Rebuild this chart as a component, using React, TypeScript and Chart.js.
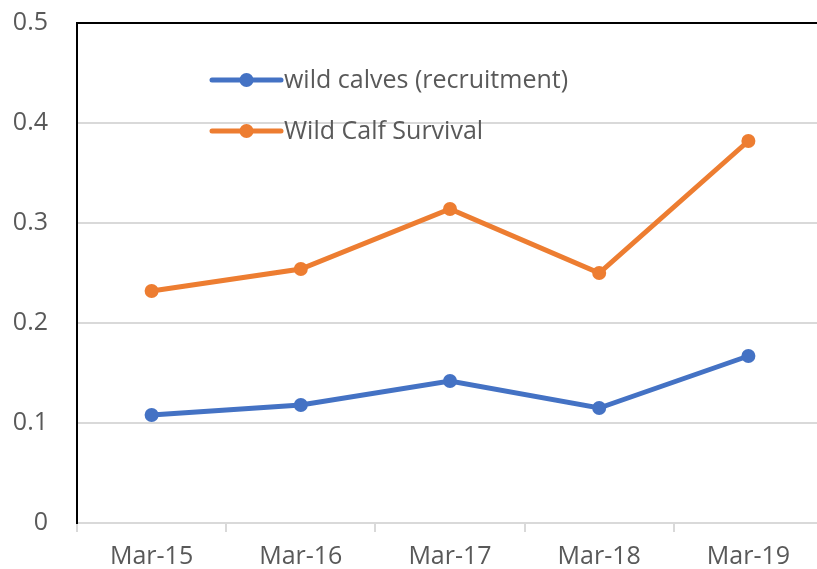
import React, { useEffect, useRef } from "react";
import { Chart, registerables } from "chart.js";

Chart.register(...registerables);

const categories = ["Mar-15", "Mar-16", "Mar-17", "Mar-18", "Mar-19"];
const recruitment = [0.108, 0.118, 0.142, 0.115, 0.167];
const survival = [0.232, 0.254, 0.314, 0.25, 0.382];
const yTicks = [0, 0.1, 0.2, 0.3, 0.4, 0.5];

const BLUE = "#4472C4";
const ORANGE = "#ED7D31";
const TEXT = "#595959";
const GRID = "#D9D9D9";
const FONT = "'Open Sans', 'Noto Sans', sans-serif";

const insideLegend = {
  id: "insideLegend",
  afterDraw(chart: any) {
    const { ctx, chartArea } = chart;
    const x0 = chartArea.left + 135;
    const lineLen = 69;
    let y = chartArea.top + 57;
    ctx.save();
    chart.data.datasets.forEach((ds: any) => {
      ctx.strokeStyle = ds.borderColor;
      ctx.lineWidth = 5;
      ctx.lineCap = "round";
      ctx.beginPath();
      ctx.moveTo(x0, y);
      ctx.lineTo(x0 + lineLen, y);
      ctx.stroke();
      ctx.fillStyle = ds.borderColor;
      ctx.beginPath();
      ctx.arc(x0 + lineLen / 2, y, 7, 0, Math.PI * 2);
      ctx.fill();
      ctx.fillStyle = TEXT;
      ctx.font = `25px ${FONT}`;
      ctx.textBaseline = "middle";
      ctx.textAlign = "left";
      ctx.fillText(ds.label, x0 + lineLen + 3, y + 1);
      y += 51;
    });
    ctx.restore();
  },
};

export default function App() {
  const ref = useRef<HTMLCanvasElement | null>(null);

  useEffect(() => {
    document.body.style.margin = "0";
    document.body.style.overflow = "hidden";
    const chart = new Chart(ref.current as HTMLCanvasElement, {
      type: "line",
      data: {
        labels: categories,
        datasets: [
          {
            label: "wild calves (recruitment)",
            data: recruitment,
            borderColor: BLUE,
            backgroundColor: BLUE,
            borderWidth: 5,
            pointRadius: 7,
            pointBackgroundColor: BLUE,
            pointBorderWidth: 0,
            tension: 0,
          },
          {
            label: "Wild Calf Survival",
            data: survival,
            borderColor: ORANGE,
            backgroundColor: ORANGE,
            borderWidth: 5,
            pointRadius: 7,
            pointBackgroundColor: ORANGE,
            pointBorderWidth: 0,
            tension: 0,
          },
        ],
      },
      options: {
        animation: false,
        responsive: false,
        maintainAspectRatio: false,
        layout: { padding: { top: 23, right: 5, left: 0, bottom: 0 } },
        plugins: {
          legend: { display: false },
          tooltip: { enabled: false },
        },
        scales: {
          x: {
            offset: true,
            grid: {
              offset: true,
              drawOnChartArea: false,
              drawTicks: true,
              tickLength: 9,
              color: GRID,
              lineWidth: 2,
            },
            border: { display: true, color: GRID, width: 2 },
            ticks: {
              color: TEXT,
              font: { family: FONT, size: 25 },
              padding: 10,
              maxRotation: 0,
            },
            afterFit: (s: any) => {
              s.height = 46;
              s.paddingTop = 0;
              s.paddingBottom = 0;
              s.paddingLeft = 0;
              s.paddingRight = 0;
            },
          },
          y: {
            min: 0,
            max: 0.5,
            afterBuildTicks: (s: any) => {
              s.ticks = yTicks.map((v) => ({ value: v }));
            },
            grid: {
              drawTicks: false,
              color: (c: any) => (c.tick && c.tick.value === 0.5 ? "#000000" : GRID),
              lineWidth: 2,
            },
            border: { display: true, color: "#000000", width: 2 },
            ticks: {
              color: TEXT,
              font: { family: FONT, size: 25 },
              padding: 29,
              callback: (v: any) => String(v),
            },
            afterFit: (s: any) => {
              s.width = 77;
              s.paddingTop = 0;
              s.paddingBottom = 0;
            },
          },
        },
      },
      plugins: [insideLegend],
    });
    return () => chart.destroy();
  }, []);

  return (
    <div style={{ position: "fixed", left: 0, top: 0, width: 817, height: 569, overflow: "hidden", background: "#fff" }}>
      <canvas ref={ref} width={830} height={569} style={{ width: 830, height: 569, display: "block" }} />
    </div>
  );
}
